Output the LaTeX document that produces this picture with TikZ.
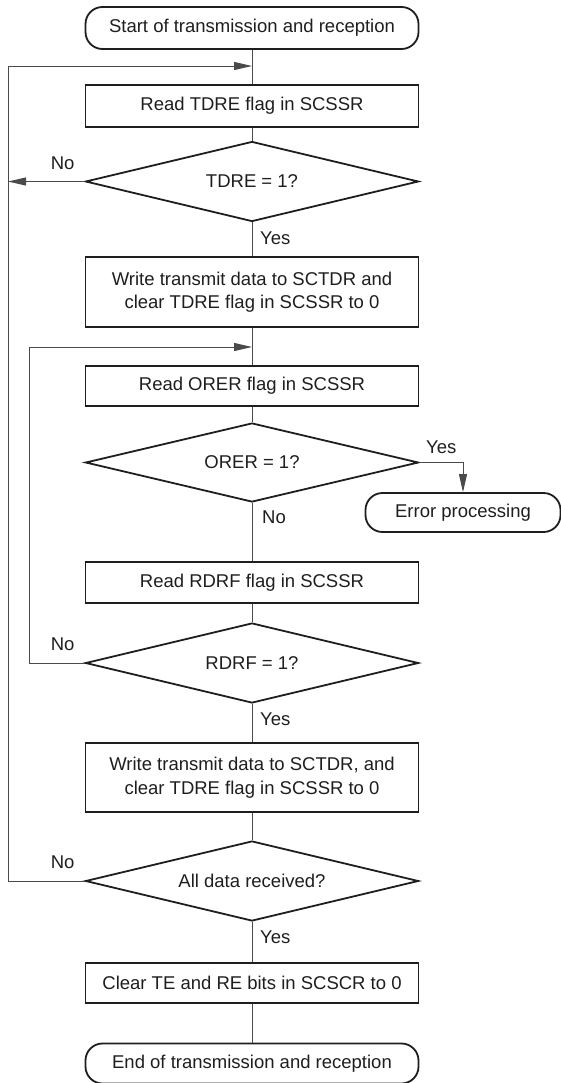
\documentclass[tikz,border=0pt]{standalone}
\usepackage{fontspec}
\setmainfont{Liberation Sans}
\usepackage{tikz}
\usetikzlibrary{arrows.meta,positioning,shapes.geometric}
\definecolor{InkBlack}{HTML}{1E1E1E}
\definecolor{WireGray}{HTML}{4A4A4A}
\newcommand{\chartfont}{\fontsize{18.5bp}{23.5bp}\selectfont}
\tikzset{
  box/.style={draw=InkBlack,line width=1.8bp,align=center,text=InkBlack,
              minimum width=333bp,minimum height=41bp,inner sep=0pt,font=\chartfont},
  termbox/.style={box,rounded corners=17bp},
  decision/.style={diamond,draw=InkBlack,line width=1.8bp,aspect=4.2,text=InkBlack,
              minimum width=333bp,minimum height=80bp,inner sep=0pt,font=\chartfont},
  wire/.style={draw=WireGray,line width=1bp},
  flow/.style={wire,-{Triangle[length=18bp,width=8bp]}},
  note/.style={font=\chartfont,text=InkBlack,inner sep=0pt}
}

\begin{document}
\begin{tikzpicture}[x=1bp,y=-1bp]
  \useasboundingbox (0,0) rectangle (561,1083);
  \node[termbox,minimum height=42bp] (start) at (252,28) {Start of transmission and reception};
  \node[box,minimum height=42bp] (rdtdre) at (252,106) {Read TDRE flag in SCSSR};
  \node[decision] (tdre) at (252,181.5) {TDRE = 1?};
  \node[box,minimum height=70bp] (wrtx) at (252,292) {Write transmit data to SCTDR and\\clear TDRE flag in SCSSR to 0};
  \node[box,minimum height=40bp] (rdorer) at (252,386) {Read ORER flag in SCSSR};
  \node[decision,minimum height=79bp] (orer) at (252,462.5) {ORER = 1?};
  \node[termbox,minimum width=195bp,minimum height=39bp] (error) at (463,512.5) {Error processing};
  \node[box] (rdrdrf) at (252,582.5) {Read RDRF flag in SCSSR};
  \node[decision] (rdrf) at (252,663) {RDRF = 1?};
  \node[box,minimum height=69bp] (wrtx2) at (252,777.5) {Write transmit data to SCTDR, and\\clear TDRE flag in SCSSR to 0};
  \node[decision] (alldone) at (252,881) {All data received?};
  \node[box,minimum height=40bp] (clrte) at (252,983) {Clear TE and RE bits in SCSCR to 0};
  \node[termbox,minimum height=40bp] (finish) at (252,1063.5) {End of transmission and reception};

  % return paths on the left
  \coordinate (loopA) at (8,66);
  \coordinate (loopB) at (29,347);

  \draw[wire] (start) -- (rdtdre);
  \draw[wire] (rdtdre) -- (tdre);
  \draw[flow] (tdre.west) -- (tdre.west -| loopA);
  \node[note,above left=12bp and 10bp of tdre.west] {No};
  \draw[wire] (tdre) -- (wrtx);
  \node[note,below right=9bp and 8bp of tdre.south] {Yes};
  \draw[wire] (wrtx) -- (rdorer);
  \draw[wire] (rdorer) -- (orer);
  \draw[flow] (orer.east) -| node[note,pos=0.25,above=8bp] {Yes} (error.north);
  \draw[wire] (orer) -- (rdrdrf);
  \node[note,below right=8bp and 10bp of orer.south] {No};
  \draw[wire] (rdrdrf) -- (rdrf);
  \draw[flow] (rdrf.west) -| (loopB) -- (loopB -| start);
  \node[note,above left=12bp and 10bp of rdrf.west] {No};
  \draw[wire] (rdrf) -- (wrtx2);
  \node[note,below right=9bp and 8bp of rdrf.south] {Yes};
  \draw[wire] (wrtx2) -- (alldone);
  \draw[flow] (alldone.west) -| (loopA) -- (loopA -| start);
  \node[note,above left=12bp and 10bp of alldone.west] {No};
  \draw[wire] (alldone) -- (clrte);
  \node[note,below right=9bp and 8bp of alldone.south] {Yes};
  \draw[wire] (clrte) -- (finish);
\end{tikzpicture}
\end{document}
